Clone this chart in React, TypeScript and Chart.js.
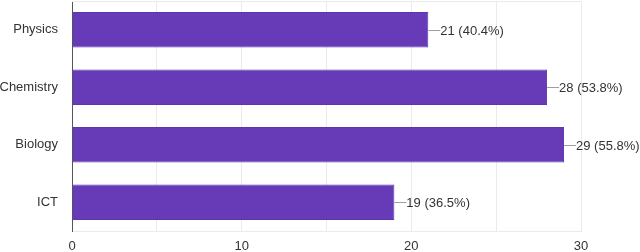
import React, { useEffect, useRef } from "react";
import { Chart, registerables } from "chart.js";

Chart.register(...registerables);

const categories = ["Physics", "Chemistry", "Biology", "ICT"];
const counts = [21, 28, 29, 19];
const percents = ["40.4%", "53.8%", "55.8%", "36.5%"];
const xTicks = [0, 10, 20, 30];

const FONT = "'Liberation Sans', Arial, sans-serif";

const labelPlugin = {
  id: "barLabels",
  afterDatasetsDraw(chart: any) {
    const ctx = chart.ctx;
    const meta = chart.getDatasetMeta(0);
    const ca = chart.chartArea;
    ctx.save();
    ctx.strokeStyle = "#ebebeb";
    ctx.lineWidth = 1;
    ctx.beginPath();
    ctx.moveTo(ca.left, ca.top + 0.5);
    ctx.lineTo(ca.right, ca.top + 0.5);
    ctx.stroke();
    ctx.font = `13px ${FONT}`;
    ctx.textBaseline = "middle";
    ctx.textAlign = "left";
    meta.data.forEach((bar: any, i: number) => {
      const x = bar.x;
      const y = Math.round(bar.y) + 0.5;
      ctx.strokeStyle = "#9e9e9e";
      ctx.lineWidth = 1;
      ctx.beginPath();
      ctx.moveTo(x, y);
      ctx.lineTo(x + 12, y);
      ctx.stroke();
      ctx.fillStyle = "#333";
      ctx.fillText(`${counts[i]} (${percents[i]})`, x + 12, y + 1);
    });
    ctx.restore();
  },
};

export default function App() {
  const ref = useRef<HTMLCanvasElement>(null);
  useEffect(() => {
    document.body.style.margin = "0";
    const chart = new Chart(ref.current!, {
      type: "bar",
      data: {
        labels: categories,
        datasets: [
          {
            data: counts,
            backgroundColor: "#673ab7",
            borderColor: "#5e35b1",
            borderWidth: 1,
            barPercentage: 0.62,
            categoryPercentage: 1,
          },
        ],
      },
      options: {
        indexAxis: "y",
        responsive: false,
        animation: false,
        layout: { padding: { top: 1, right: 59, left: 0, bottom: 0 } },
        plugins: { legend: { display: false }, tooltip: { enabled: false } },
        scales: {
          x: {
            min: 0,
            max: 30,
            ticks: {
              stepSize: 5,
              autoSkip: false,
              maxRotation: 0,
              padding: 8,
              color: "#333",
              font: { family: FONT, size: 13 },
              callback: (v: any) => (xTicks.includes(Number(v)) ? String(v) : ""),
            },
            grid: { color: "#ebebeb", drawTicks: false },
            border: { display: true, color: "#ebebeb" },
            afterFit: (s: any) => {
              s.height = 21;
              s.paddingLeft = 0;
              s.paddingRight = 0;
            },
          },
          y: {
            ticks: {
              padding: 14,
              color: "#333",
              font: { family: FONT, size: 13 },
            },
            grid: { display: false, drawTicks: false },
            border: { display: true, color: "#555", width: 1 },
            afterFit: (s: any) => {
              s.width = 72;
              s.paddingTop = 0;
              s.paddingBottom = 0;
            },
          },
        },
      },
      plugins: [labelPlugin],
    } as any);
    return () => chart.destroy();
  }, []);
  return (
    <div style={{ width: 640, height: 252 }}>
      <canvas ref={ref} width={640} height={252} style={{ display: "block" }} />
    </div>
  );
}
